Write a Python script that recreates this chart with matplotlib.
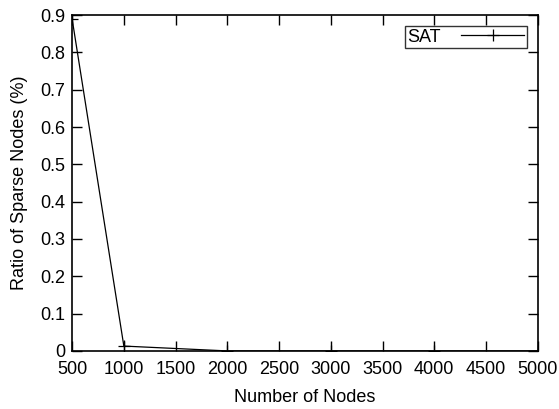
import matplotlib
matplotlib.use("Agg")
import matplotlib.pyplot as plt
from matplotlib.ticker import FuncFormatter

# datos
nodes = [500, 1000, 2000, 3000, 4000, 5000]
sat = [0.89, 0.013, 0.0, 0.0, 0.0, 0.0]

plt.rcParams['font.family'] = ['Liberation Sans', 'DejaVu Sans']

fig = plt.figure(figsize=(5.59, 4.09), dpi=100)
ax = fig.add_axes([0.129, 0.142, 0.833, 0.821])

ax.plot(nodes, sat, color='black', lw=0.9, marker='+', ms=9, mew=0.9, label='SAT')

ax.set_xlim(500, 5000)
ax.set_ylim(0, 0.9)
ax.set_xticks(range(500, 5001, 500))
ax.set_yticks([i / 10 for i in range(10)])
ax.yaxis.set_major_formatter(FuncFormatter(lambda v, p: '0' if v == 0 else f'{v:.1f}'))
ax.tick_params(direction='in', top=True, right=True, length=7, width=1, labelsize=13)
ax.tick_params(axis='x', pad=7)
ax.tick_params(axis='y', pad=5)
for s in ax.spines.values():
    s.set_linewidth(1.2)

ax.set_xlabel('Number of Nodes', fontsize=13, labelpad=8)
ax.set_ylabel('Ratio of Sparse Nodes (%)', fontsize=13, labelpad=9)

leg = ax.legend(loc='upper right', fontsize=13, frameon=True, fancybox=False,
                edgecolor='black', markerfirst=False, handlelength=3.5,
                borderpad=0.15, handletextpad=1.1, borderaxespad=0.6)
leg.get_frame().set_linewidth(1.0)

fig.savefig('out.png', dpi=100)
